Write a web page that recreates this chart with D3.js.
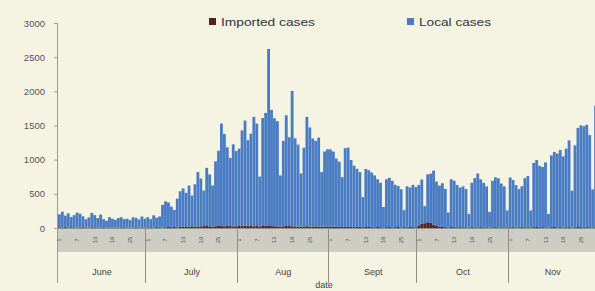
<!DOCTYPE html>
<html>
<head>
<meta charset="utf-8">
<script src="https://cdn.jsdelivr.net/npm/d3@7"></script>
<style>
  html, body { margin: 0; padding: 0; background: #f5f4e3; }
  svg { display: block; font-family: "Liberation Sans", Arial, sans-serif; }
</style>
</head>
<body>
<script>
// months shown on the lower axis
var months = ["June", "July", "Aug", "Sept", "Oct", "Nov"];
var monthDays = [30, 31, 31, 30, 31, 30];
var dayTicks = [1, 7, 13, 19, 25];
var yTicks = [0, 500, 1000, 1500, 2000, 2500, 3000];

// local cases per day
var localJune = [190, 230, 170, 210, 150, 180, 220, 200, 160, 120, 150, 210, 180, 140, 190, 120, 100, 150, 130, 110, 140, 150, 120, 130, 110, 150, 140, 120, 160, 130];
var localJuly = [150, 120, 180, 140, 160, 330, 380, 360, 300, 250, 420, 520, 560, 500, 600, 450, 620, 800, 700, 520, 850, 760, 600, 950, 1100, 1500, 1350, 1150, 1000, 1200, 1100];
var localAug = [1130, 1400, 1540, 1250, 1350, 1600, 1500, 730, 1580, 1650, 2590, 1700, 1580, 1540, 750, 1250, 1620, 1300, 1980, 1290, 1200, 780, 1150, 1600, 1450, 1290, 1250, 1300, 800, 1100, 1130];
var localSept = [1130, 1100, 1000, 950, 730, 1150, 1160, 980, 900, 850, 800, 440, 850, 830, 800, 760, 700, 650, 300, 700, 720, 680, 620, 600, 560, 250, 600, 580, 620, 590];
var localOct = [600, 650, 250, 700, 720, 790, 650, 600, 640, 560, 220, 700, 680, 620, 580, 600, 560, 200, 650, 720, 790, 700, 650, 600, 230, 680, 730, 720, 640, 600, 250];
var localNov = [730, 690, 620, 560, 600, 720, 750, 250, 940, 980, 900, 880, 950, 200, 1050, 1100, 1080, 1130, 1040, 1150, 1270, 540, 1200, 1450, 1490, 1480, 1500, 1350, 560, 1780];

// imported cases per day
var impJune = [10, 8, 12, 6, 10, 8, 5, 9, 11, 7, 6, 10, 8, 5, 7, 9, 6, 8, 5, 7, 6, 8, 10, 6, 5, 7, 9, 6, 8, 7];
var impJuly = [8, 10, 6, 12, 9, 7, 10, 14, 12, 15, 10, 18, 20, 15, 22, 25, 20, 18, 24, 28, 30, 25, 22, 26, 30, 28, 25, 30, 27, 24, 26];
var impAug = [30, 28, 32, 35, 30, 26, 28, 22, 30, 34, 30, 28, 26, 24, 20, 25, 30, 28, 26, 22, 20, 18, 24, 26, 22, 20, 24, 22, 18, 20, 22];
var impSept = [20, 18, 16, 20, 14, 18, 16, 14, 12, 15, 18, 12, 14, 16, 12, 10, 14, 12, 8, 12, 14, 10, 12, 14, 8, 12, 10, 14, 12, 10];
var impOct = [30, 60, 70, 85, 75, 50, 30, 20, 15, 12, 8, 14, 12, 10, 12, 9, 10, 6, 12, 10, 8, 12, 10, 9, 6, 10, 12, 8, 10, 9, 6];
var impNov = [10, 12, 8, 10, 12, 9, 10, 6, 12, 14, 10, 12, 10, 6, 12, 14, 10, 12, 8, 10, 12, 6, 10, 14, 12, 10, 12, 10, 6, 12];

var localAll = [localJune, localJuly, localAug, localSept, localOct, localNov];
var impAll = [impJune, impJuly, impAug, impSept, impOct, impNov];

var W = 595, H = 291;
var localColor = "#4a7cc4", impColor = "#5a1f1f";

// one row per day
var rows = [];
months.forEach(function (m, i) {
    for (var d = 1; d <= monthDays[i]; d++) {
        rows.push({ key: m + "-" + d, month: i, day: d, imported: impAll[i][d - 1], local: localAll[i][d - 1] });
    }
});

var svg = d3.select("body").append("svg").attr("width", W).attr("height", H);
svg.append("rect").attr("width", W).attr("height", H).attr("fill", "#f5f4e3");

var x = d3.scaleBand().domain(rows.map(function (r) { return r.key; })).range([58, 597]).paddingInner(0.04);
var y = d3.scaleLinear().domain([0, 3000]).range([228, 23]);

// grey band holding the day labels
svg.append("rect").attr("x", 58).attr("y", 229).attr("width", W - 58).attr("height", 23).attr("fill", "#cdcdc4");

var stack = d3.stack().keys(["imported", "local"])(rows);
var colors = { imported: impColor, local: localColor };

svg.append("g").selectAll("g")
    .data(stack)
    .join("g")
    .attr("fill", function (s) { return colors[s.key]; })
    .selectAll("rect")
    .data(function (s) { return s; })
    .join("rect")
    .attr("x", function (d) { return x(d.data.key); })
    .attr("width", x.bandwidth())
    .attr("y", function (d) { return y(d[1]); })
    .attr("height", function (d) { return y(d[0]) - y(d[1]); });

// zero line
svg.append("line").attr("x1", 57).attr("x2", W).attr("y1", 228.5).attr("y2", 228.5).attr("stroke", "#8f8f86");

// y axis
var yAxis = svg.append("g").attr("transform", "translate(57,0)")
    .call(d3.axisLeft(y).tickValues(yTicks).tickSize(3).tickPadding(9).tickFormat(d3.format("d")));
yAxis.select(".domain").remove();
yAxis.selectAll("line").attr("stroke", "#9a9a8e");
yAxis.selectAll("text").attr("fill", "#555").attr("font-size", 9.5).attr("font-family", "Liberation Sans, Arial, sans-serif");
svg.append("line").attr("x1", 57.5).attr("x2", 57.5).attr("y1", 23).attr("y2", 283).attr("stroke", "#9a9a8e");

// day labels, rotated
svg.append("g").selectAll("text")
    .data(rows.filter(function (r) { return dayTicks.indexOf(r.day) >= 0; }))
    .join("text")
    .attr("transform", function (r) { return "translate(" + (x(r.key) + x.bandwidth() / 2) + ",240) rotate(-90)"; })
    .attr("text-anchor", "middle")
    .attr("dominant-baseline", "central")
    .attr("font-size", 6)
    .attr("fill", "#555")
    .text(function (r) { return r.day; });

// month separators and labels
var firstDays = rows.filter(function (r) { return r.day === 1; });
svg.append("g").selectAll("line")
    .data(firstDays.slice(1))
    .join("line")
    .attr("x1", function (r) { return Math.round(x(r.key)) - 0.5; })
    .attr("x2", function (r) { return Math.round(x(r.key)) - 0.5; })
    .attr("y1", 229)
    .attr("y2", 283)
    .attr("stroke", "#8f8f86");

svg.append("g").selectAll("text")
    .data(firstDays)
    .join("text")
    .attr("x", function (r) {
        var last = months[r.month] + "-" + monthDays[r.month];
        return (x(r.key) + x(last) + x.bandwidth()) / 2;
    })
    .attr("y", 275)
    .attr("text-anchor", "middle")
    .attr("font-size", 9)
    .attr("fill", "#444")
    .text(function (r) { return months[r.month]; });

svg.append("text").attr("x", 324).attr("y", 288).attr("text-anchor", "middle")
    .attr("font-size", 9).attr("fill", "#444").text("date");

// legend
var legend = [
    { label: "Imported cases", color: impColor, x: 209, w: 94 },
    { label: "Local cases", color: localColor, x: 407, w: 72 }
];
var lg = svg.append("g").selectAll("g").data(legend).join("g")
    .attr("transform", function (d) { return "translate(" + d.x + ",18)"; });
lg.append("rect").attr("width", 7).attr("height", 7).attr("fill", function (d) { return d.color; });
lg.append("text").attr("x", 12).attr("y", 8).attr("font-size", 11).attr("fill", "#333")
    .attr("textLength", function (d) { return d.w; })
    .attr("lengthAdjust", "spacingAndGlyphs")
    .text(function (d) { return d.label; });
</script>
</body>
</html>
